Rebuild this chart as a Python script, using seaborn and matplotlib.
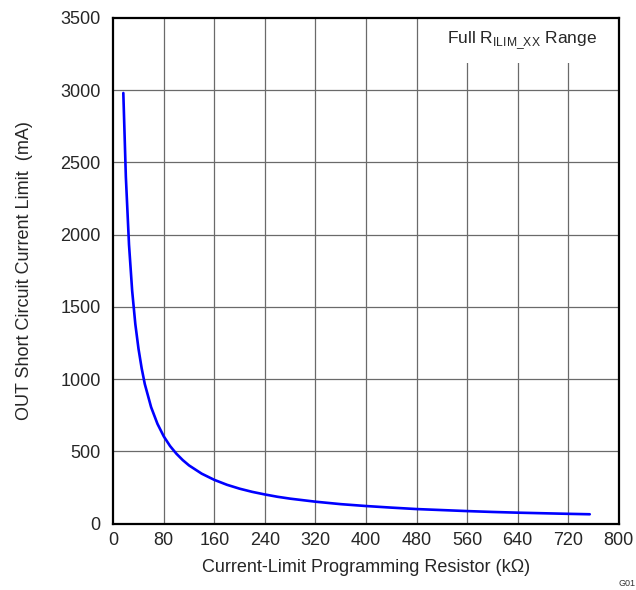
import pandas as pd
import matplotlib.pyplot as plt
import matplotlib.patches as mpatches
import seaborn as sns

# values
resistor_kohm = [16, 20, 25, 30, 35, 40, 45, 50, 60, 70, 80, 90, 100, 110, 120, 140, 160,
                 180, 200, 220, 240, 260, 280, 320, 360, 400, 440, 480, 520, 560,
                 600, 640, 680, 720, 754]
current_ma = [2980, 2400, 1930, 1610, 1380, 1210, 1075, 965, 805, 690, 603, 536, 483,
              439, 402, 345, 302, 268, 241, 219, 201, 185, 172, 151, 134, 121, 110,
              100, 93, 86, 80, 75, 71, 67, 64]

x_ticks = list(range(0, 801, 80))
y_ticks = list(range(0, 3501, 500))

df = pd.DataFrame({'R': resistor_kohm, 'I': current_ma})

sns.set_style('white')
plt.rcParams['font.family'] = ['Liberation Sans', 'DejaVu Sans']
plt.rcParams['mathtext.fontset'] = 'custom'
plt.rcParams['mathtext.rm'] = 'Liberation Sans'

fig = plt.figure(figsize=(6.36, 5.90), dpi=100)
ax = fig.add_axes([0.178, 0.1127, 0.795, 0.857])

# grid
for xv in x_ticks[1:-1]:
    ax.axvline(xv, color='#6a6a6a', lw=0.9, zorder=1)
for yv in y_ticks[1:-1]:
    ax.axhline(yv, color='#6a6a6a', lw=0.9, zorder=1)

# white patch behind the range label
ax.add_patch(mpatches.Rectangle((0.66, 0.911), 0.34, 0.089, transform=ax.transAxes,
                                facecolor='white', edgecolor='none', zorder=2))
ax.text(0.957, 0.955, r'Full R$_{\mathregular{ILIM\_XX}}$ Range', transform=ax.transAxes,
        ha='right', va='center', fontsize=12.5, zorder=3)

sns.lineplot(data=df, x='R', y='I', color='#0000FF', lw=1.9, ax=ax, zorder=4)

ax.set_xlim(0, 800)
ax.set_ylim(0, 3500)
ax.set_xticks(x_ticks)
ax.set_yticks(y_ticks)
ax.tick_params(axis='x', length=0, labelsize=13, pad=6)
ax.tick_params(axis='y', length=0, labelsize=13, pad=9)
for s in ax.spines.values():
    s.set_color('black')
    s.set_linewidth(1.6)

ax.set_xlabel('Current-Limit Programming Resistor (k\u03a9)', fontsize=13, labelpad=7)
ax.set_ylabel('OUT Short Circuit Current Limit  (mA)', fontsize=13, labelpad=20)

fig.text(0.999, 0.003, 'G01', ha='right', va='bottom', fontsize=6.5, color='#333333')

fig.savefig('out.png', dpi=100)
